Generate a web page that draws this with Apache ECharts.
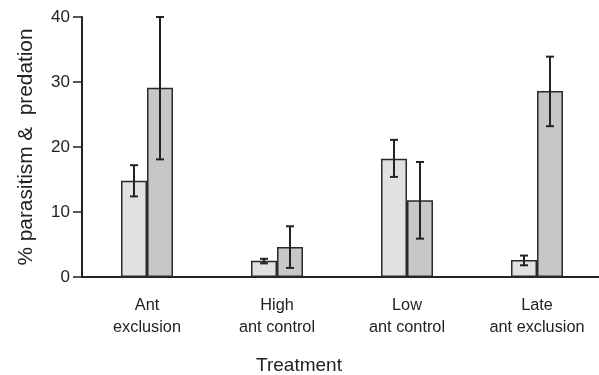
<!DOCTYPE html>
<html>
<head>
<meta charset="utf-8">
<script src="https://cdn.jsdelivr.net/npm/echarts@6/dist/echarts.min.js"></script>
<style>
  html, body { margin: 0; padding: 0; background: #fff; }
  #chart { width: 599px; height: 375px; }
</style>
</head>
<body>
<div id="chart"></div>
<script>
// Treatments along the x axis
const categories = ['Ant\nexclusion', 'High\nant control', 'Low\nant control', 'Late\nant exclusion'];

// Parasitism (light bars): mean and error-bar limits
const parasitismMean = [14.8, 2.5, 18.2, 2.6];
const parasitismLow  = [12.4, 2.1, 15.4, 1.8];
const parasitismHigh = [17.2, 2.8, 21.1, 3.3];

// Predation (dark bars): mean and error-bar limits
const predationMean = [29.1, 4.6, 11.8, 28.6];
const predationLow  = [18.1, 1.4, 5.9, 23.2];
const predationHigh = [40.0, 7.8, 17.7, 33.9];

// Y axis ticks
const yTicks = [0, 10, 20, 30, 40];

const FONT = "'Liberation Sans', Arial, Helvetica, sans-serif";
const INK = '#222';

// Builds an error-bar renderer shifted sideways by a fraction of the category band
function errorBars(offsetFrac) {
  return function (params, api) {
    const idx = api.value(0);
    const band = api.size([1, 0])[0];
    const x = api.coord([idx, 0])[0] + offsetFrac * band;
    const yLo = api.coord([idx, api.value(1)])[1];
    const yHi = api.coord([idx, api.value(2)])[1];
    const cap = 4;
    const style = { stroke: INK, lineWidth: 2 };
    return {
      type: 'group',
      children: [
        { type: 'line', shape: { x1: x, y1: yLo, x2: x, y2: yHi }, style: style },
        { type: 'line', shape: { x1: x - cap, y1: yHi, x2: x + cap, y2: yHi }, style: style },
        { type: 'line', shape: { x1: x - cap, y1: yLo, x2: x + cap, y2: yLo }, style: style }
      ]
    };
  };
}

const chart = echarts.init(document.getElementById('chart'), null, { renderer: 'canvas' });

chart.setOption({
  animation: false,
  backgroundColor: '#fff',
  textStyle: { fontFamily: FONT },
  grid: { left: 82, right: -3, top: 17, bottom: 98, containLabel: false, outerBoundsMode: 'none' },
  xAxis: {
    type: 'category',
    data: categories,
    name: 'Treatment',
    nameLocation: 'middle',
    nameGap: 79,
    nameTextStyle: { fontSize: 19, color: INK, fontFamily: FONT, padding: [0, 86, 0, 0] },
    axisLine: { lineStyle: { color: INK, width: 2 } },
    axisTick: { alignWithLabel: true, length: 10, lineStyle: { color: INK, width: 2 } },
    axisLabel: { color: INK, fontSize: 16.3, lineHeight: 22, margin: 18, fontFamily: FONT }
  },
  yAxis: {
    type: 'value',
    min: yTicks[0],
    max: yTicks[yTicks.length - 1],
    interval: yTicks[1] - yTicks[0],
    name: '% parasitism &  predation',
    nameLocation: 'middle',
    nameGap: 45,
    nameTextStyle: { fontSize: 20.8, color: INK, fontFamily: FONT },
    splitLine: { show: false },
    axisLine: { show: true, lineStyle: { color: INK, width: 2 } },
    axisTick: { show: true, length: 9, lineStyle: { color: INK, width: 1.5 } },
    axisLabel: { color: INK, fontSize: 17, margin: 12, fontFamily: FONT }
  },
  series: [
    {
      name: 'Parasitism',
      type: 'bar',
      data: parasitismMean,
      barWidth: '20%',
      barGap: '0%',
      itemStyle: { color: '#e0e1e3', borderColor: '#2a2a2a', borderWidth: 1.5 }
    },
    {
      name: 'Predation',
      type: 'bar',
      data: predationMean,
      barWidth: '20%',
      barGap: '0%',
      itemStyle: { color: '#c6c7c9', borderColor: '#2a2a2a', borderWidth: 1.5 }
    },
    {
      type: 'custom',
      z: 10,
      renderItem: errorBars(-0.1),
      encode: { x: 0, y: [1, 2] },
      data: categories.map((c, i) => [i, parasitismLow[i], parasitismHigh[i]])
    },
    {
      type: 'custom',
      z: 10,
      renderItem: errorBars(0.1),
      encode: { x: 0, y: [1, 2] },
      data: categories.map((c, i) => [i, predationLow[i], predationHigh[i]])
    }
  ]
});
</script>
</body>
</html>
